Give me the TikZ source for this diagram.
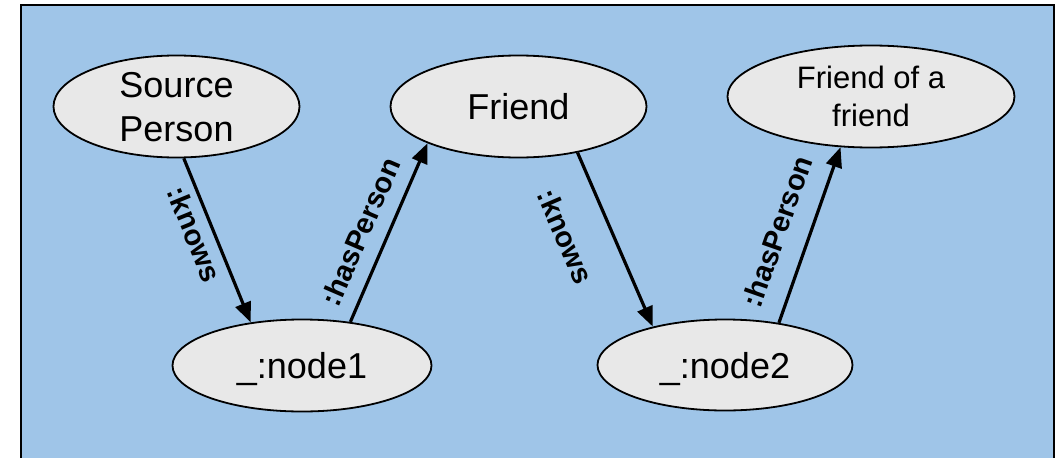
\documentclass[tikz,border=0pt]{standalone}
\usepackage{fontspec}
\setmainfont{Liberation Sans}
\usetikzlibrary{shapes.geometric,arrows.meta}
\definecolor{bgblue}{HTML}{9FC5E8}
\definecolor{nodegray}{HTML}{E8E8E8}
\tikzset{
  ent/.style={ellipse, draw=black, line width=1.8pt, fill=nodegray, inner sep=0pt,
    align=center, text depth=0pt, font=\fontsize{36}{44}\selectfont},
  rel/.style={line width=3.2pt, -{Triangle[length=20pt,width=16pt]}},
  lbl/.style={font=\bfseries\fontsize{29}{34}\selectfont, sloped, inner sep=0pt}
}
\begin{document}
\begin{tikzpicture}[x=1pt,y=-1pt]
\useasboundingbox (0,0) rectangle (1058,458);
\clip (0,0) rectangle (1058,458);
\draw[line width=2pt, fill=bgblue] (21,5) rectangle (1054,480);

\node[ent, minimum width=246pt, minimum height=102pt] (src) at (176.5,106.5) {Source\\Person};
\node[ent, minimum width=256pt, minimum height=102pt] (fr) at (518.5,106.5) {Friend};
\node[ent, minimum width=287pt, minimum height=102pt, font=\fontsize{31}{38}\selectfont] (fof) at (871,96.5) {Friend of a\\friend};
\node[ent, minimum width=259pt, minimum height=92pt] (n1) at (302,365.5) {\_:node1};
\node[ent, minimum width=255pt, minimum height=91pt] (n2) at (725,365) {\_:node2};

\draw[rel] (src.-82.9) -- node[lbl, pos=0.42, below=18.5pt, anchor=center] {:knows} (n1.140.1);
\draw[rel] (n1.42.7) -- node[lbl, pos=0.445, above=26.5pt, anchor=center] {:hasPerson} (fr.-158);
\draw[rel] (fr.-38) -- node[lbl, pos=0.38, below=44pt, anchor=center] {:knows} (n2.152.3);
\draw[rel] (n2.38.3) -- node[lbl, pos=0.46, above=32pt, anchor=center] {:hasPerson} (fof.-121.7);
\end{tikzpicture}
\end{document}
